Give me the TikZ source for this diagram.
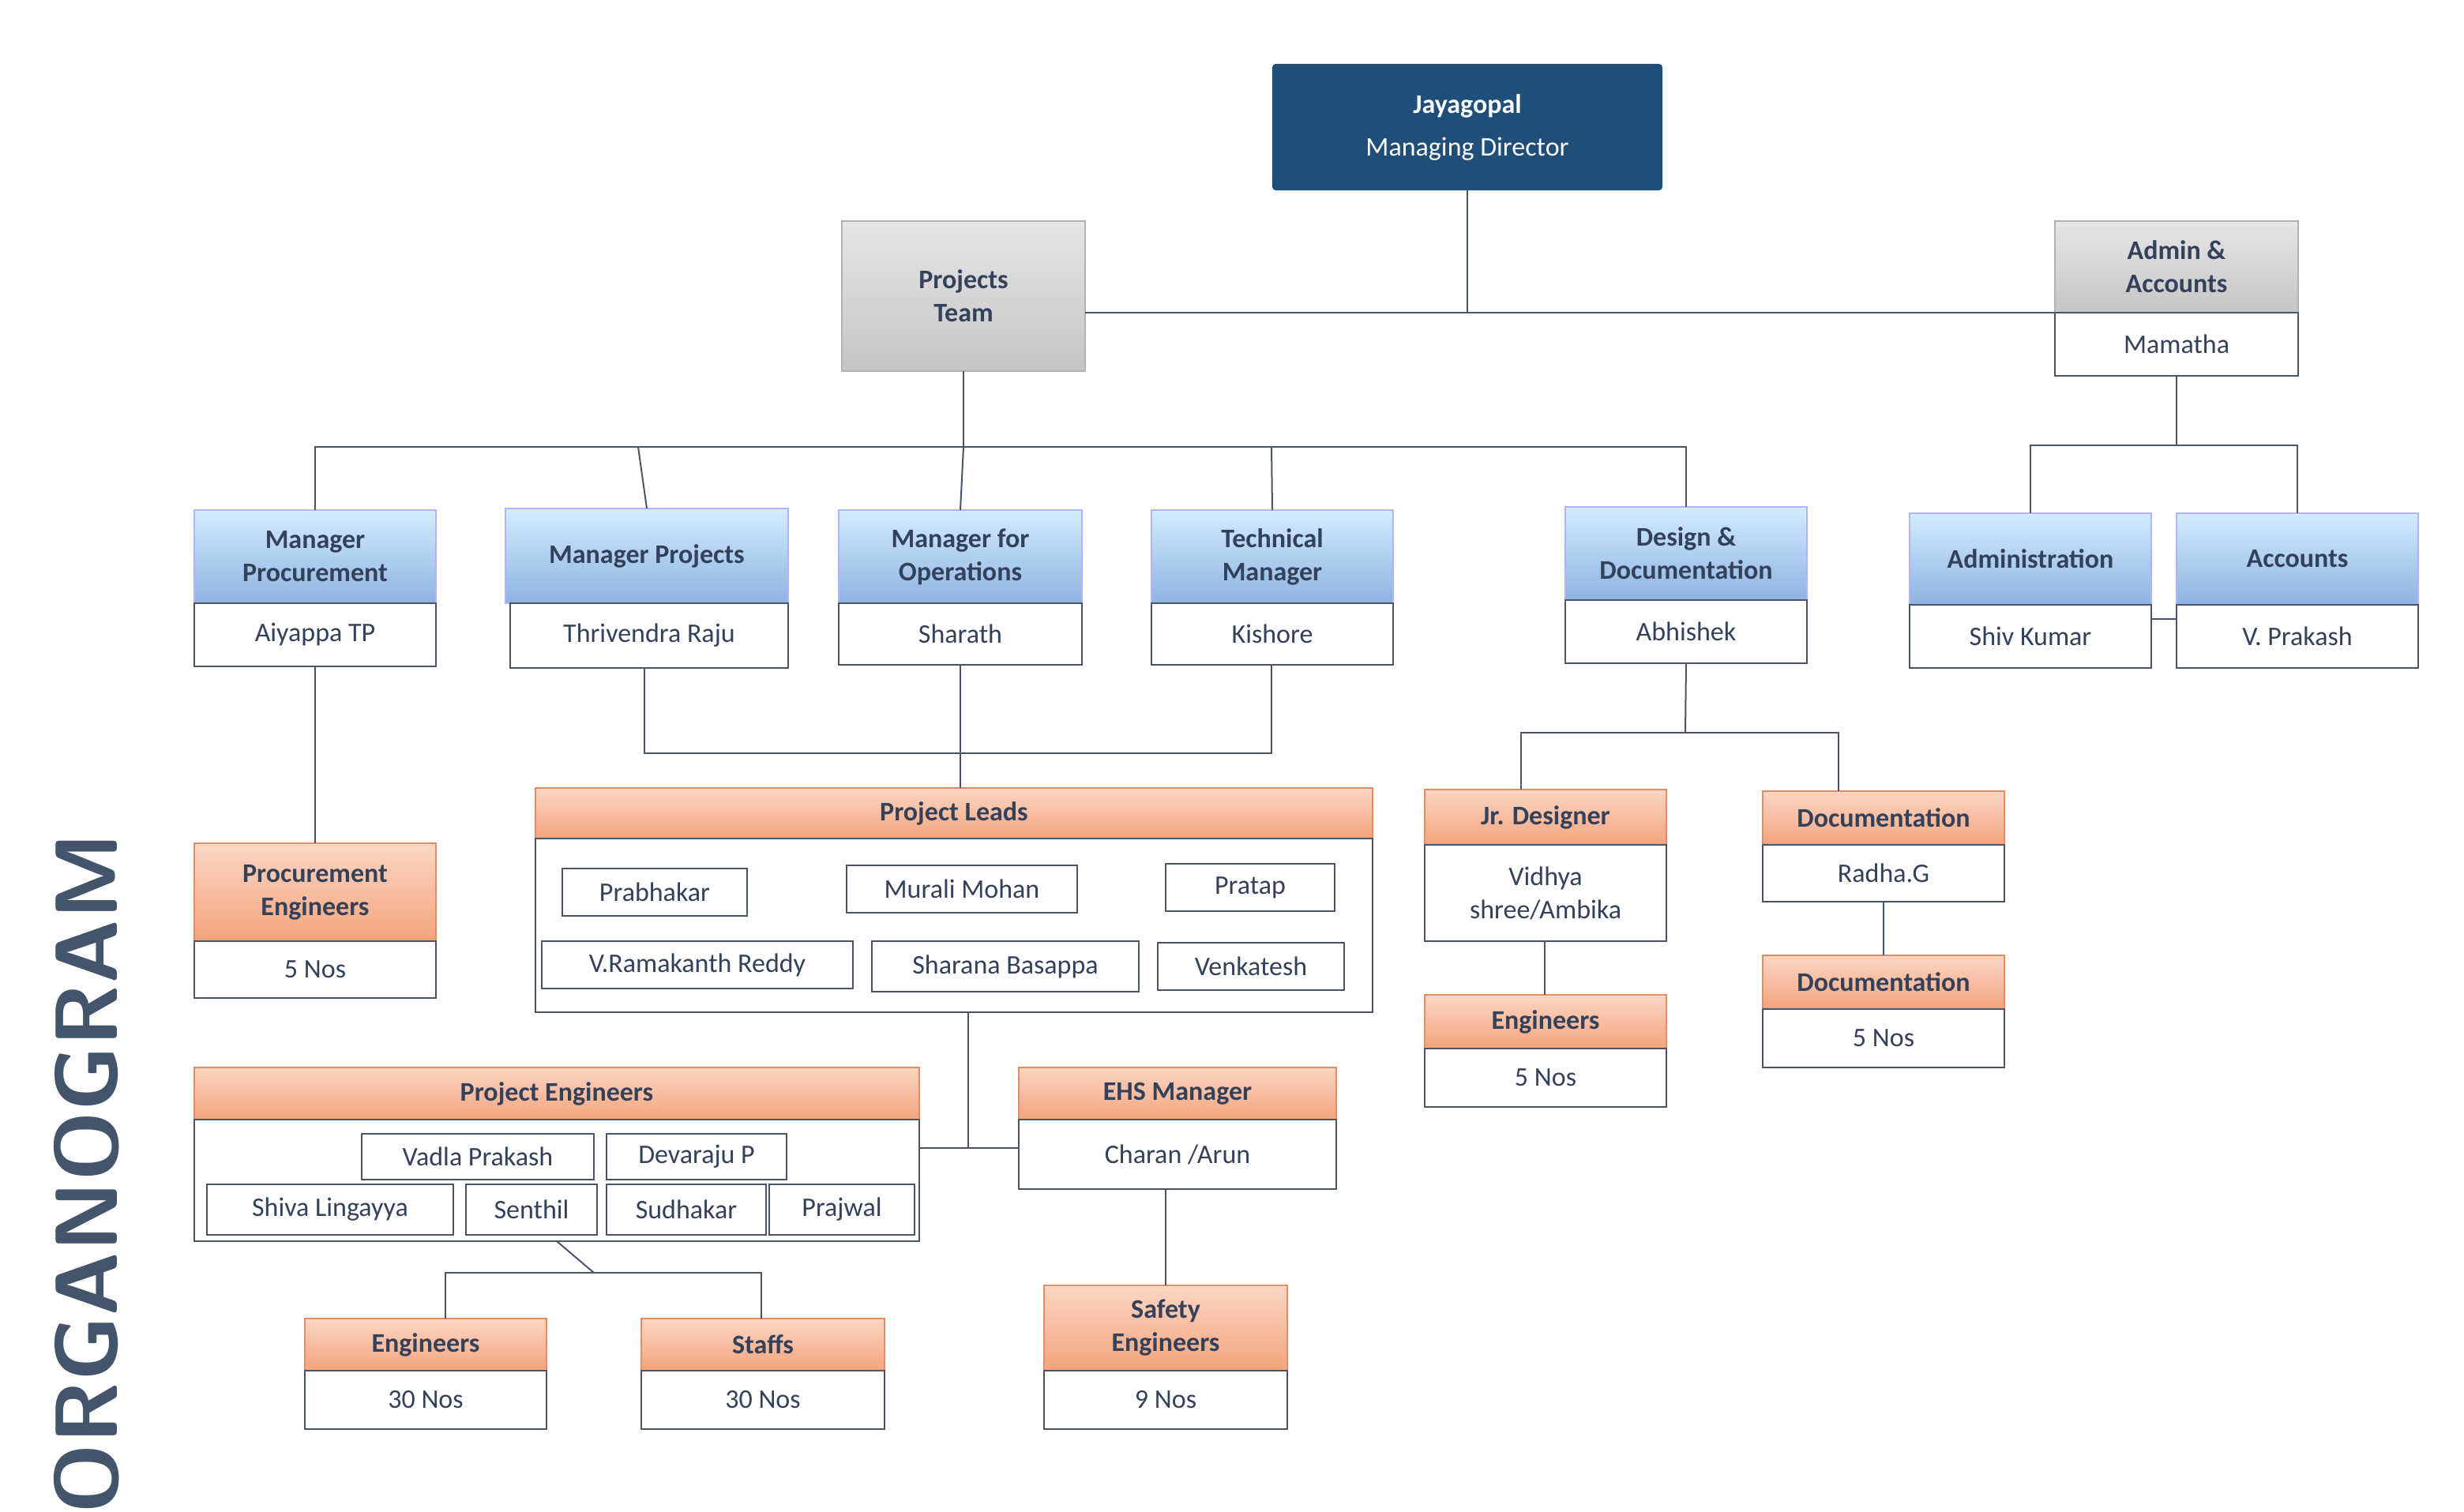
\documentclass[tikz,border=0pt]{standalone}
\usepackage{fontspec}
\setmainfont{Carlito}
\definecolor{ink}{HTML}{33415A}
\definecolor{edge}{HTML}{4A5568}
\definecolor{navy}{HTML}{1F4E79}
\definecolor{title}{HTML}{44546A}
\newcommand\bx[7]{\pgfmathsetmacro\cx{(#3+#5)/2}\pgfmathsetmacro\cy{(#4+#6)/2}\pgfmathsetmacro\ww{#5-#3}\pgfmathsetmacro\hh{#6-#4}\node[#2,minimum width=\ww pt,minimum height=\hh pt] (#1) at (\cx,\cy) {#7};}
\tikzset{
 base/.style={draw=edge,line width=1.2pt,inner sep=1pt,outer sep=0pt,align=center,text=ink,font=\fontsize{17}{21}\selectfont},
 wbox/.style={base,fill=white},
 bluebox/.style={base,draw=white!70!blue,top color=blue!8!white!90!cyan,bottom color={rgb,255:red,141;green,179;blue,226},font=\bfseries\fontsize{17}{21}\selectfont},
 orbox/.style={base,draw={rgb,255:red,230;green,140;blue,100},top color={rgb,255:red,252;green,214;blue,196},bottom color={rgb,255:red,244;green,164;blue,124},font=\bfseries\fontsize{17}{21}\selectfont},
 grbox/.style={base,draw=gray!60,top color=gray!20,bottom color=gray!45,font=\bfseries\fontsize{17}{21}\selectfont},
 conn/.style={draw=edge,line width=1pt}
}
\begin{document}
\begin{tikzpicture}[x=1pt,y=-1pt]
\useasboundingbox[fill=white] (0,0) rectangle (1560,957.5);
% top
\bx{md}{base,fill=navy,draw=navy,text=white,rounded corners=2pt}{806}{41}{1052}{120}{\textbf{Jayagopal}\\[6pt]Managing Director}
\bx{pt}{grbox}{533}{140}{687}{235}{Projects\\Team}
\bx{aa}{grbox}{1301}{140}{1455}{198}{Admin \&\\Accounts}
\bx{mam}{wbox}{1301}{198}{1455}{238}{Mamatha}
% managers
\bx{mp}{bluebox}{123}{323}{276}{382}{Manager\\Procurement}
\bx{mpn}{wbox}{123}{382}{276}{422}{Aiyappa TP}
\bx{mpr}{bluebox}{320}{322}{499}{382}{Manager Projects}
\bx{mprn}{wbox}{323}{382}{499}{423}{Thrivendra Raju}
\bx{mo}{bluebox}{531}{323}{685}{382}{Manager for\\Operations}
\bx{mon}{wbox}{531}{382}{685}{421}{Sharath}
\bx{tm}{bluebox}{729}{323}{882}{382}{Technical\\Manager}
\bx{tmn}{wbox}{729}{382}{882}{421}{Kishore}
\bx{dd}{bluebox}{991}{321}{1144}{380}{Design \&\\Documentation}
\bx{ddn}{wbox}{991}{380}{1144}{420}{Abhishek}
\bx{ad}{bluebox}{1209}{325}{1362}{383}{Administration}
\bx{adn}{wbox}{1209}{383}{1362}{423}{Shiv Kumar}
\bx{ac}{bluebox}{1378}{325}{1531}{383}{Accounts}
\bx{acn}{wbox}{1378}{383}{1531}{423}{V. Prakash}
% procurement
\bx{pe}{orbox}{123}{534}{276}{596}{Procurement\\Engineers}
\bx{pen}{wbox}{123}{596}{276}{632}{5 Nos}
% project leads
\bx{pl}{orbox}{339}{499}{869}{531}{Project Leads}
\bx{plb}{wbox}{339}{531}{869}{641}{}
\bx{l1}{wbox}{356}{550}{473}{580}{Prabhakar}
\bx{l2}{wbox}{536}{548}{682}{578}{Murali Mohan}
\bx{l3}{wbox}{738}{547}{845}{577}{Pratap}
\bx{l4}{wbox}{343}{596}{540}{626}{V.Ramakanth Reddy}
\bx{l5}{wbox}{552}{596}{721}{628}{Sharana Basappa}
\bx{l6}{wbox}{733}{597}{851}{627}{Venkatesh}
% project engineers
\bx{pj}{orbox}{123}{676}{582}{709}{Project Engineers}
\bx{pjb}{wbox}{123}{709}{582}{786}{}
\bx{e1}{wbox}{229}{718}{376}{747}{Vadla Prakash}
\bx{e2}{wbox}{384}{718}{498}{747}{Devaraju P}
\bx{e3}{wbox}{131}{750}{287}{782}{Shiva Lingayya}
\bx{e4}{wbox}{295}{750}{378}{782}{Senthil}
\bx{e5}{wbox}{384}{750}{485}{782}{Sudhakar}
\bx{e6}{wbox}{487}{750}{579}{782}{Prajwal}
\bx{en}{orbox}{193}{835}{346}{868}{Engineers}
\bx{enn}{wbox}{193}{868}{346}{905}{30 Nos}
\bx{st}{orbox}{406}{835}{560}{868}{Staffs}
\bx{stn}{wbox}{406}{868}{560}{905}{30 Nos}
% EHS
\bx{ehs}{orbox}{645}{676}{846}{709}{EHS Manager}
\bx{ehsn}{wbox}{645}{709}{846}{753}{Charan /Arun}
\bx{se}{orbox}{661}{814}{815}{868}{Safety\\Engineers}
\bx{sen}{wbox}{661}{868}{815}{905}{9 Nos}
% design
\bx{jd}{orbox}{902}{500}{1055}{535}{Jr. Designer}
\bx{jdn}{wbox}{902}{535}{1055}{596}{Vidhya\\shree/Ambika}
\bx{de}{orbox}{902}{630}{1055}{664}{Engineers}
\bx{den}{wbox}{902}{664}{1055}{701}{5 Nos}
\bx{do}{orbox}{1116}{501}{1269}{535}{Documentation}
\bx{don}{wbox}{1116}{535}{1269}{571}{Radha.G}
\bx{d2}{orbox}{1116}{605}{1269}{639}{Documentation}
\bx{d2n}{wbox}{1116}{639}{1269}{676}{5 Nos}
% connectors
\begin{scope}[conn]
\draw (md.south) -- (929,198);
\draw (pt.east |- 0,198) -- (aa.south west);
\draw (pt.south) -- (610,283);
\draw (mp.north) |- (610,283) -| (dd.north);
\draw (mpr.north) -- (404,283);
\draw (mo.north) -- (610,283);
\draw (tm.north) -- (805,283);
\draw (mam.south) -- (1378,282);
\draw (ad.north) |- (1378,282) -| (ac.north);
\draw (adn.east |- 0,392) -- (acn.west |- 0,392);
\draw (mpn.south) -- (pe.north);
\draw (408,423) |- (805,477) -- (805,421);
\draw (608,421) -- (608,499);
\draw (613,641) -- (613,727);
\draw (pjb.east |- 0,727) -- (ehsn.west |- 0,727);
\draw (pjb.south) -- (376,806);
\draw (en.north -| 282,0) |- (482,806) -- (st.north -| 482,0);
\draw (ehsn.south -| 738,0) -- (se.north -| 738,0);
\draw (ddn.south) -- (1067,464);
\draw (jd.north -| 963,0) |- (1164,464) -- (do.north -| 1164,0);
\draw (jdn.south -| 978,0) -- (de.north -| 978,0);
\draw (don.south) -- (d2.north);
\end{scope}
\node[rotate=90,text=title,font=\sffamily\bfseries\fontsize{56}{60}\selectfont] (org) at (55,743) {ORGANOGRAM};
\end{tikzpicture}
\end{document}
